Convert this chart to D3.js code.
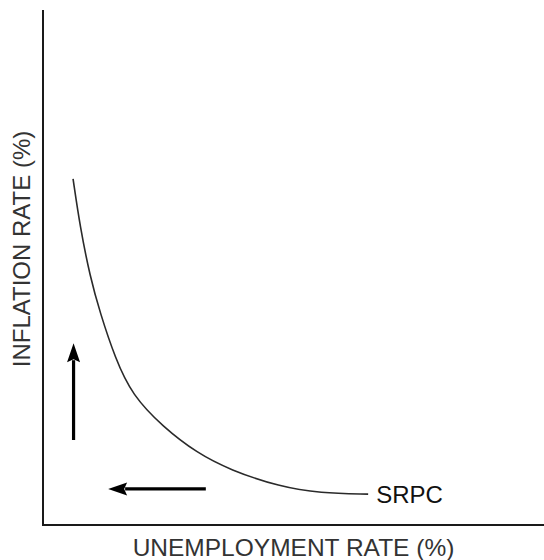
<!DOCTYPE html>
<html>
<head>
<meta charset="utf-8">
<script src="https://cdn.jsdelivr.net/npm/d3@7"></script>
<style>
  body { margin: 0; background: #fff; }
  text { font-family: "Liberation Sans", Arial, Helvetica, sans-serif; }
</style>
</head>
<body>
<script>
// SRPC curve (percent of axis length)
var curveX = [6.0, 7.4, 9.4, 11.4, 14.4, 17.8, 24.0, 30.7, 37.3, 47.3, 55.3, 64.9];
var curveY = [67.2, 57.9, 48.2, 41.2, 32.4, 25.2, 19.0, 14.0, 10.7, 7.4, 6.2, 6.0];

// movement arrows: [from, to]
var upArrowX = [6.1, 6.1];
var upArrowY = [16.5, 35.3];
var leftArrowX = [32.5, 13.0];
var leftArrowY = [7.0, 7.0];

var curveLabel = "SRPC";
var xTitle = "UNEMPLOYMENT RATE (%)";
var yTitle = "INFLATION RATE (%)";

var W = 544, H = 560;
var padL = 43, padR = 544, padT = 10, padB = 525;

var x = d3.scaleLinear().domain([0, 100]).range([padL, padR]);
var y = d3.scaleLinear().domain([0, 100]).range([padB, padT]);

var svg = d3.select("body").append("svg")
    .attr("width", W)
    .attr("height", H);

// axes (plain lines, no ticks)
svg.append("line")
    .attr("x1", x(0)).attr("y1", y(100))
    .attr("x2", x(0)).attr("y2", y(0))
    .attr("stroke", "#1a1a1a").attr("stroke-width", 2);
svg.append("line")
    .attr("x1", x(0) - 1).attr("y1", y(0))
    .attr("x2", x(100)).attr("y2", y(0))
    .attr("stroke", "#1a1a1a").attr("stroke-width", 2);

// curve
var pts = curveX.map(function (d, i) { return [d, curveY[i]]; });
var line = d3.line()
    .x(function (d) { return x(d[0]); })
    .y(function (d) { return y(d[1]); })
    .curve(d3.curveBasis);

svg.append("path")
    .datum(pts)
    .attr("d", line)
    .attr("fill", "none")
    .attr("stroke", "#2a2a2a")
    .attr("stroke-width", 1.6);

var last = pts[pts.length - 1];
svg.append("text")
    .attr("x", x(last[0]) + 8)
    .attr("y", y(last[1]) + 9)
    .attr("font-size", 24)
    .attr("fill", "#111")
    .text(curveLabel);

// arrows
function arrow(xs, ys) {
    var x1 = x(xs[0]), y1 = y(ys[0]), x2 = x(xs[1]), y2 = y(ys[1]);
    var ang = Math.atan2(y2 - y1, x2 - x1);
    var hl = 19, hw = 6.5;
    var bx = x2 - hl * Math.cos(ang), by = y2 - hl * Math.sin(ang);
    svg.append("line")
        .attr("x1", x1).attr("y1", y1)
        .attr("x2", bx + 2 * Math.cos(ang)).attr("y2", by + 2 * Math.sin(ang))
        .attr("stroke", "#000").attr("stroke-width", 3.2);
    var px = -Math.sin(ang), py = Math.cos(ang);
    svg.append("path")
        .attr("d", "M" + x2 + "," + y2 +
            "L" + (bx + px * hw) + "," + (by + py * hw) +
            "L" + (bx + 3 * Math.cos(ang)) + "," + (by + 3 * Math.sin(ang)) +
            "L" + (bx - px * hw) + "," + (by - py * hw) + "Z")
        .attr("fill", "#000");
}
arrow(upArrowX, upArrowY);
arrow(leftArrowX, leftArrowY);

// titles
svg.append("text")
    .attr("x", (padL + padR) / 2)
    .attr("y", 556)
    .attr("text-anchor", "middle")
    .attr("font-size", 24.5)
    .attr("fill", "#333")
    .text(xTitle);

svg.append("text")
    .attr("transform", "translate(30," + 249 + ") rotate(-90)")
    .attr("text-anchor", "middle")
    .attr("font-size", 24)
    .attr("fill", "#333")
    .text(yTitle);
</script>
</body>
</html>
